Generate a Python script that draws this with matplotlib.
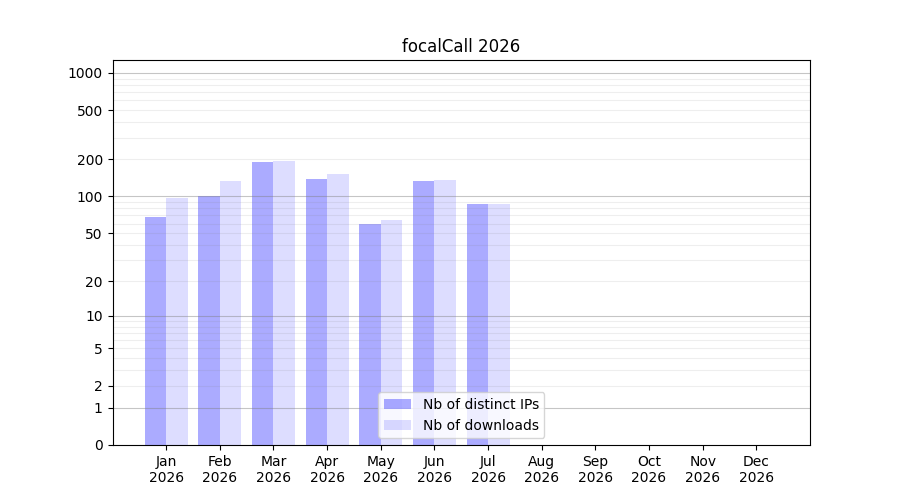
import numpy as np
import matplotlib
matplotlib.use("Agg")
import matplotlib.pyplot as plt

# data
months = ["Jan", "Feb", "Mar", "Apr", "May", "Jun", "Jul", "Aug", "Sep", "Oct", "Nov", "Dec"]
year = "2026"
distinct_ips = [68, 101, 191, 139, 59, 134, 87, 0, 0, 0, 0, 0]
downloads = [97, 134, 195, 153, 64, 137, 87, 0, 0, 0, 0, 0]
y_ticks = [0, 1, 2, 5, 10, 20, 50, 100, 200, 500, 1000]
major_lines = [1, 10, 100, 1000]
minor_lines = [m * d for d in (1, 10, 100) for m in range(2, 10)]


def forward(v):
    return np.log10(np.asarray(v) + 1.0)


def inverse(v):
    return 10.0 ** np.asarray(v) - 1.0


fig, ax = plt.subplots(figsize=(9, 5), dpi=100)
ax.set_yscale("function", functions=(forward, inverse))

x = np.arange(len(months))
ax.bar(x - 0.2, distinct_ips, width=0.4, color="blue", alpha=0.33, label="Nb of distinct IPs")
ax.bar(x + 0.2, downloads, width=0.4, color="blue", alpha=0.135, label="Nb of downloads")

ax.hlines(minor_lines, -1, 12, colors="grey", linewidth=0.8, alpha=0.13, zorder=1.5)
ax.hlines(major_lines, -1, 12, colors="grey", linewidth=0.8, alpha=0.45, zorder=1.5)

ax.set_xlim(-1, 12)
ax.set_ylim(0, 1270)
ax.set_xticks(x)
ax.set_xticklabels([m + "\n" + year for m in months])
ax.set_yticks(y_ticks)
ax.set_yticklabels([str(t) for t in y_ticks])
ax.yaxis.set_minor_locator(matplotlib.ticker.NullLocator())

ax.set_title("focalCall 2026")
ax.legend(loc="lower center")

fig.savefig("out.png", dpi=100)
